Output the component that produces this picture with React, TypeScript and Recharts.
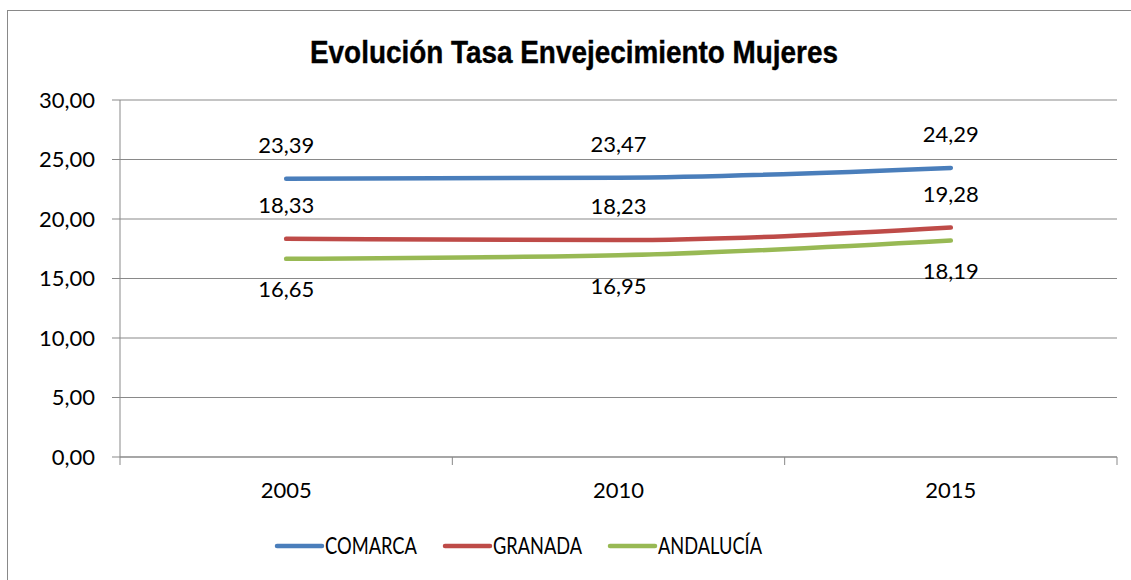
import React from 'react';
import { LineChart, Line, XAxis, YAxis, CartesianGrid, LabelList } from 'recharts';

const years = ['2005', '2010', '2015'];
const comarca = [23.39, 23.47, 24.29];
const granada = [18.33, 18.23, 19.28];
const andalucia = [16.65, 16.95, 18.19];
const yTicks = [0, 5, 10, 15, 20, 25, 30];

const seriesNames = ['COMARCA', 'GRANADA', 'ANDALUCÍA'];
const seriesKeys = ['comarca', 'granada', 'andalucia'];
const seriesColors = ['#4a7ebb', '#be4b48', '#98b954'];
const legendTextWidths = [92, 89, 104];

const title = 'Evolución Tasa Envejecimiento Mujeres';

const data = years.map((y, i) => ({
  year: y,
  comarca: comarca[i],
  granada: granada[i],
  andalucia: andalucia[i],
}));

const FONT = 'Lato, "Liberation Sans", sans-serif';
const GRID = '#898989';
const fmt = (v: number) => v.toFixed(2).replace('.', ',');

const XTick = (props: any) => {
  const { x, y, payload, width, visibleTicksCount, index } = props;
  const band = width / visibleTicksCount;
  return (
    <g>
      <line x1={x - band / 2} x2={x - band / 2} y1={y} y2={y + 8} stroke={GRID} strokeWidth={1} />
      {index === visibleTicksCount - 1 && (
        <line x1={x + band / 2} x2={x + band / 2} y1={y} y2={y + 8} stroke={GRID} strokeWidth={1} />
      )}
      <text x={x} y={y + 41} textAnchor="middle" fontFamily={FONT} fontSize={22} fill="#000">
        {payload.value}
      </text>
    </g>
  );
};

const Legend = () => {
  let cx = 277;
  const items = seriesNames.map((name, i) => {
    const x0 = cx;
    cx += 45 + 3 + legendTextWidths[i] + 28;
    return (
      <g key={name}>
        <line x1={x0} x2={x0 + 45} y1={546} y2={546} stroke={seriesColors[i]} strokeWidth={4.5} strokeLinecap="round" />
        <text
          x={x0 + 48}
          y={554}
          fontFamily={FONT}
          fontSize={24}
          fill="#000"
          textLength={legendTextWidths[i]}
          lengthAdjust="spacingAndGlyphs"
        >
          {name}
        </text>
      </g>
    );
  });
  return (
    <svg width={1131} height={580} style={{ position: 'absolute', left: 0, top: 0, pointerEvents: 'none' }}>
      <text
        x={310}
        y={63}
        fontFamily='"Liberation Sans", Arial, sans-serif'
        fontWeight="bold"
        fontSize={31}
        fill="#000"
        stroke="#000"
        strokeWidth={0.4}
        textLength={528}
        lengthAdjust="spacingAndGlyphs"
      >
        {title}
      </text>
      {items}
    </svg>
  );
};

export default function App() {
  return (
    <div style={{ position: 'absolute', left: 0, top: 0, width: 1131, height: 580, overflow: 'hidden', background: '#fff' }}>
      <div style={{ position: 'absolute', left: 7, top: 10, width: 1150, height: 620, border: `1px solid ${GRID}` }} />
      <div style={{ position: 'absolute', left: 0, top: 0 }}>
        <LineChart width={1131} height={580} data={data} margin={{ top: 100, right: 14, left: 0, bottom: 63 }}>
          <CartesianGrid vertical={false} stroke={GRID} strokeWidth={1} />
          <XAxis
            dataKey="year"
            scale="band"
            height={60}
            axisLine={{ stroke: GRID }}
            tickLine={false}
            tickSize={0}
            tickMargin={0}
            tick={<XTick />}
            interval={0}
          />
          <YAxis
            width={120}
            domain={[0, 30]}
            ticks={yTicks}
            tickFormatter={fmt}
            axisLine={{ stroke: GRID }}
            tickLine={{ stroke: GRID }}
            tickSize={8}
            tickMargin={17}
            tick={{ fontFamily: FONT, fontSize: 22, fill: '#000' }}
            interval={0}
          />
          {seriesKeys.map((k, i) => (
            <Line
              key={k}
              dataKey={k}
              name={seriesNames[i]}
              type="monotone"
              stroke={seriesColors[i]}
              strokeWidth={4.5}
              strokeLinecap="round"
              dot={false}
              activeDot={false}
              isAnimationActive={false}
            >
              <LabelList
                dataKey={k}
                position={i === 2 ? 'bottom' : 'top'}
                offset={i === 2 ? 23 : 26}
                formatter={(v: any) => fmt(Number(v))}
                style={{ fontFamily: FONT, fontSize: 22, fill: '#000' }}
              />
            </Line>
          ))}
        </LineChart>
      </div>
      <Legend />
    </div>
  );
}
